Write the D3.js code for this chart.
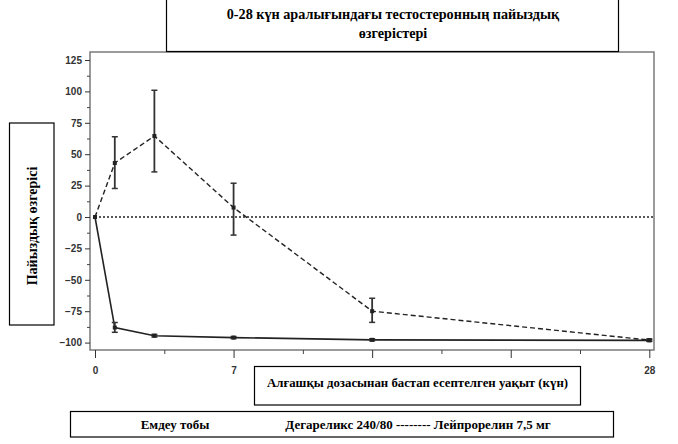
<!DOCTYPE html>
<html>
<head>
<meta charset="utf-8">
<script src="https://cdn.jsdelivr.net/npm/d3@7"></script>
<style>
  body { margin: 0; background: #fff; }
  svg { display: block; }
</style>
</head>
<body>
<div id="chart"></div>
<script>
// data
let days = [0, 1, 3, 7, 14, 28]
let degarelix = [0, -88, -94.5, -96, -97.8, -98.2]
let degLow = [0, -91.8, -95.5, -96.8, -98.6, -99]
let degHigh = [0, -84, -93.5, -95.2, -97, -97.4]
let leuprolide = [0, 43, 64.5, 7.5, -75, -98]
let leuLow = [0, 22.7, 35.9, -14.4, -83.9, -98.8]
let leuHigh = [0, 63.9, 100.9, 26.9, -64.7, -97.2]
let yTicks = [-100, -75, -50, -25, 0, 25, 50, 75, 100, 125]
let xTicks = [0, 7, 14, 21, 28]
let xLabels = ["0", "7", "14", "21", "28"]

let titleLines = ["0-28 күн аралығындағы тестостеронның пайыздық", "өзгерістері"]
let yTitle = "Пайыздық өзгерісі"
let xTitle = "Алғашқы дозасынан бастап есептелген уақыт (күн)"
let legendHead = "Емдеу тобы"
let legendText = "Дегареликс 240/80 -------- Лейпрорелин 7,5 мг"

let dims = { width: 678, height: 444 }
let box = { left: 90, top: 52, right: 654, bottom: 350 }

const svg = d3.select("#chart").append("svg")
  .attr("width", dims.width).attr("height", dims.height)

const x = d3.scaleLinear().domain([0, 28]).range([95, 649.3])
const y = d3.scaleLinear().domain([-100, 125]).range([342.6, 60])

const serif = "'Liberation Serif', 'DejaVu Serif', serif"
const sans = "'Liberation Sans', Arial, sans-serif"

// plot frame
svg.append("rect")
  .attr("x", box.left).attr("y", box.top)
  .attr("width", box.right - box.left).attr("height", box.bottom - box.top)
  .attr("fill", "none").attr("stroke", "#7a7a7a").attr("stroke-width", 1.5)

// y axis, major and minor ticks
let yMinor = d3.range(-87.5, 125, 25)
svg.append("g").attr("transform", `translate(${box.left},0)`)
  .call(d3.axisLeft(y).tickValues(yMinor).tickSize(3).tickFormat(""))
  .call(g => g.select(".domain").remove())
  .selectAll("line").attr("stroke", "#444")
const yAxis = svg.append("g").attr("transform", `translate(${box.left},0)`)
  .call(d3.axisLeft(y).tickValues(yTicks).tickSize(5).tickPadding(3)
    .tickFormat(d => d < 0 ? "−" + Math.abs(d) : d))
yAxis.select(".domain").remove()
yAxis.selectAll("line").attr("stroke", "#333")
yAxis.selectAll("text").style("font-family", sans).style("font-size", "10px")
  .style("font-weight", "bold").attr("fill", "#333")

// x axis
let xMinor = d3.range(3.5, 28, 7)
svg.append("g").attr("transform", `translate(0,${box.bottom})`)
  .call(d3.axisBottom(x).tickValues(xMinor).tickSize(4).tickFormat(""))
  .call(g => g.select(".domain").remove())
  .selectAll("line").attr("stroke", "#444")
const xAxis = svg.append("g").attr("transform", `translate(0,${box.bottom})`)
  .call(d3.axisBottom(x).tickValues(xTicks).tickSize(8).tickPadding(9)
    .tickFormat((d, i) => xLabels[i]))
xAxis.select(".domain").remove()
xAxis.selectAll("line").attr("stroke", "#333")
xAxis.selectAll("text").style("font-family", sans).style("font-size", "10px")
  .style("font-weight", "bold").attr("fill", "#333")

// zero reference
svg.append("line")
  .attr("x1", x(0)).attr("x2", box.right)
  .attr("y1", y(0)).attr("y2", y(0))
  .attr("stroke", "#222").attr("stroke-width", 1.5).attr("stroke-dasharray", "2,2")

function drawSeries(vals, lo, hi, dash, width) {
  let pts = days.map((d, i) => [d, vals[i], lo[i], hi[i]])
  svg.append("path").datum(pts)
    .attr("d", d3.line().x(d => x(d[0])).y(d => y(d[1])))
    .attr("fill", "none").attr("stroke", "#222")
    .attr("stroke-width", width).attr("stroke-dasharray", dash)
  const g = svg.append("g")
  pts.slice(1).forEach(d => {
    let cx = x(d[0])
    g.append("line").attr("x1", cx).attr("x2", cx).attr("y1", y(d[2])).attr("y2", y(d[3]))
      .attr("stroke", "#333").attr("stroke-width", 1.8)
    ;[d[2], d[3]].forEach(v => g.append("line")
      .attr("x1", cx - 3).attr("x2", cx + 3).attr("y1", y(v)).attr("y2", y(v))
      .attr("stroke", "#333").attr("stroke-width", 1.5))
  })
  g.selectAll("rect").data(pts).join("rect")
    .attr("x", d => x(d[0]) - 2).attr("y", d => y(d[1]) - 2)
    .attr("width", 4).attr("height", 4).attr("fill", "#222")
}
drawSeries(leuprolide, leuLow, leuHigh, "5,3", 1.4)
drawSeries(degarelix, degLow, degHigh, null, 1.6)

// title box
svg.append("rect").attr("x", 166.5).attr("y", -2).attr("width", 452).attr("height", 53.5)
  .attr("fill", "#fff").attr("stroke", "#000").attr("stroke-width", 1.2)
svg.append("text").attr("x", 393).attr("y", 0)
  .style("font-family", serif).style("font-size", "14.2px").style("font-weight", "bold")
  .attr("text-anchor", "middle")
  .selectAll("tspan").data(titleLines).join("tspan")
  .attr("x", 393).attr("y", (d, i) => 19 + i * 19).text(d => d)

// y title box
svg.append("rect").attr("x", 9.5).attr("y", 123).attr("width", 44.5).attr("height", 202)
  .attr("fill", "#fff").attr("stroke", "#000").attr("stroke-width", 1.2)
svg.append("text").attr("transform", "translate(37,226) rotate(-90)")
  .attr("text-anchor", "middle")
  .style("font-family", serif).style("font-size", "14px").style("font-weight", "bold")
  .text(yTitle)

// x title box
svg.append("rect").attr("x", 254.5).attr("y", 366.5).attr("width", 326).attr("height", 38.5)
  .attr("fill", "#fff").attr("stroke", "#000").attr("stroke-width", 1.2)
svg.append("text").attr("x", 417.5).attr("y", 386.5)
  .attr("text-anchor", "middle")
  .style("font-family", serif).style("font-size", "12.8px").style("font-weight", "bold")
  .text(xTitle)

// legend box
svg.append("rect").attr("x", 70.5).attr("y", 411.5).attr("width", 543).attr("height", 25.5)
  .attr("fill", "#fff").attr("stroke", "#000").attr("stroke-width", 1.2)
svg.append("text").attr("x", 175).attr("y", 428.5)
  .attr("text-anchor", "middle")
  .style("font-family", serif).style("font-size", "13px").style("font-weight", "bold")
  .text(legendHead)
svg.append("text").attr("x", 418).attr("y", 428.5)
  .attr("text-anchor", "middle")
  .style("font-family", serif).style("font-size", "13px").style("font-weight", "bold")
  .text(legendText)
</script>
</body>
</html>
